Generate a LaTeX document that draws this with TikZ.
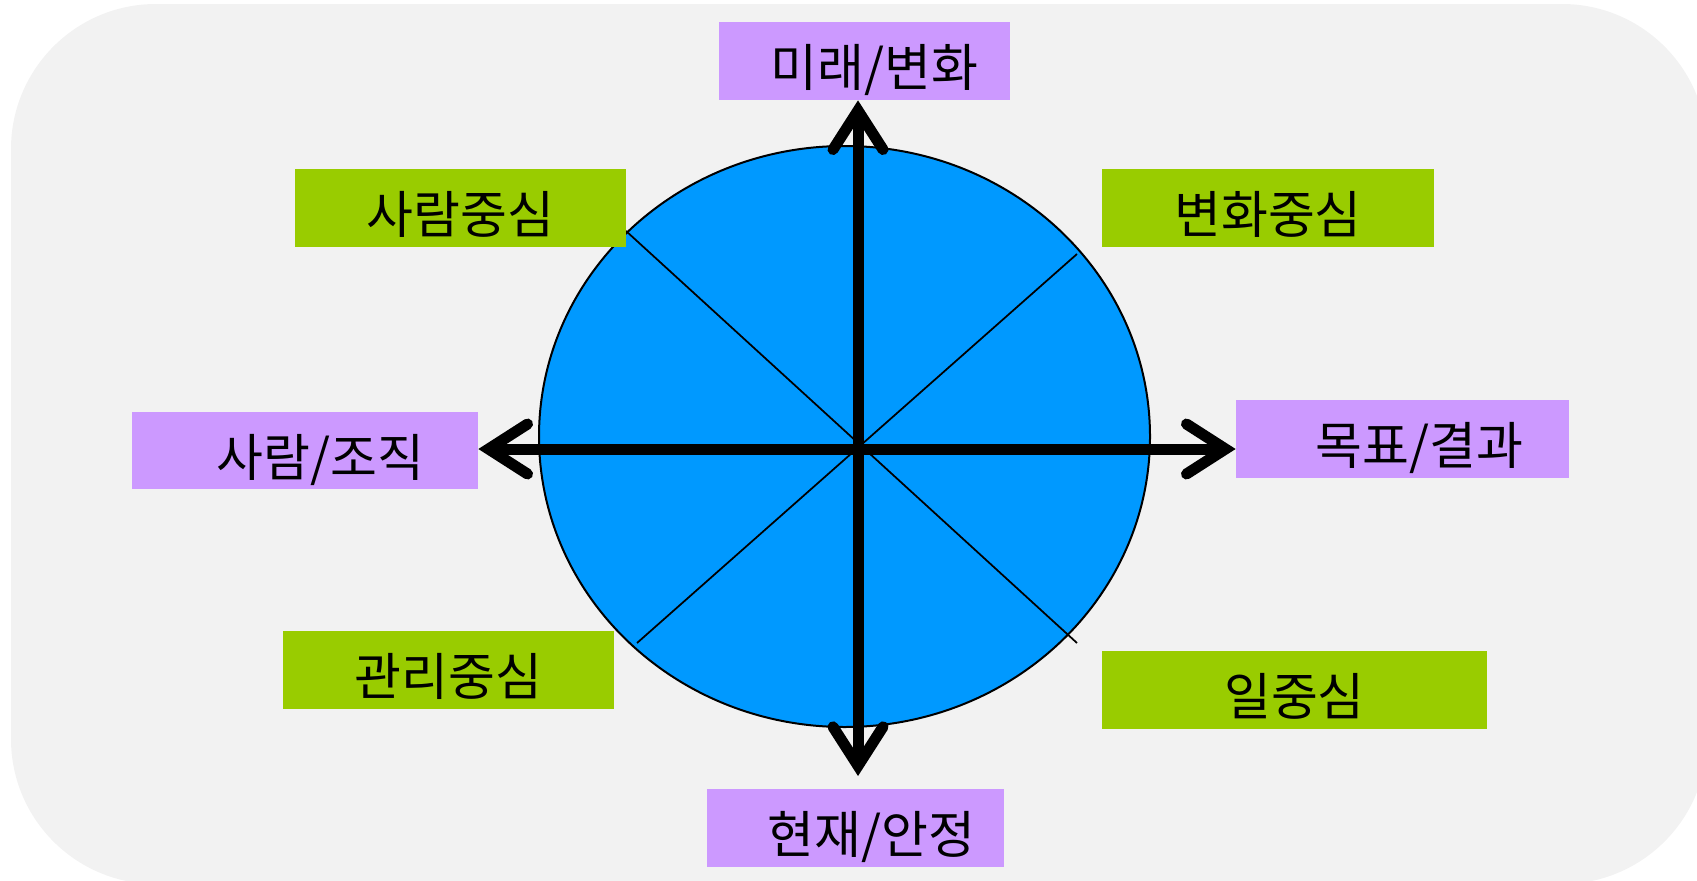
\documentclass[tikz,border=0pt]{standalone}
\usepackage{fontspec}
\newfontfamily\krfont{Noto Sans CJK KR}
\usetikzlibrary{arrows.meta}
\definecolor{bgGray}{HTML}{F2F2F2}
\definecolor{discBlue}{HTML}{0099FF}
\definecolor{leafGreen}{HTML}{99CC00}
\definecolor{poleLilac}{HTML}{CC99FF}

\begin{document}
\begin{tikzpicture}[x=0.2mm,y=-0.2mm,
  >={Straight Barb[length=7.8mm,width=10mm,line cap=round]},
  box/.style={inner sep=0pt,minimum height=15.6mm,text height=10.3mm,text depth=0mm,
    font=\krfont\fontsize{29}{34}\selectfont},
  focus/.style={box,fill=leafGreen},
  pole/.style={box,fill=poleLilac},
  axis/.style={line width=2.2mm,<->},
  spoke/.style={line width=0.35mm}]
\useasboundingbox (0,0) rectangle (1697,880);
% backdrop
\fill[bgGray,rounded corners=29mm] (11,4) rectangle (1707,884);
% disc
\filldraw[fill=discBlue,draw=black,line width=0.4mm] (844.5,436.5) ellipse [x radius=305.5,y radius=290.5];
% spokes
\draw[spoke] (626,231) -- (1077,643);
\draw[spoke] (1077,254) -- (637,643);
% focus labels
\node[focus,minimum width=66.2mm] (peopleFocus) at (460.5,208) {사람중심};
\node[focus,minimum width=66.4mm] (changeFocus) at (1268,208) {변화중심};
\node[focus,minimum width=66.2mm] (controlFocus) at (448.5,670) {관리중심};
\node[focus,minimum width=77mm] (taskFocus) at (1294.5,690) {일중심};
% pole labels
\node[pole,minimum width=58.2mm] (future) at (864.5,61) {\hspace*{0.4em}미래/변화};
\node[pole,minimum width=59.4mm] (present) at (855.5,828) {\hspace*{0.63em}현재/안정};
\node[pole,minimum width=69.2mm,minimum height=15.4mm] (people) at (305,450.5) {\hspace*{0.6em}사람/조직};
\node[pole,minimum width=66.6mm] (goal) at (1402.5,439) {\hspace*{0.67em}목표/결과};
% axes
\coordinate (hub) at (858,449);
\coordinate (downEnd) at (858,776);
\draw[axis] (future.south -| hub) -- (downEnd);
\draw[axis] (people.east |- hub) -- (goal.west |- hub);
\end{tikzpicture}
\end{document}
